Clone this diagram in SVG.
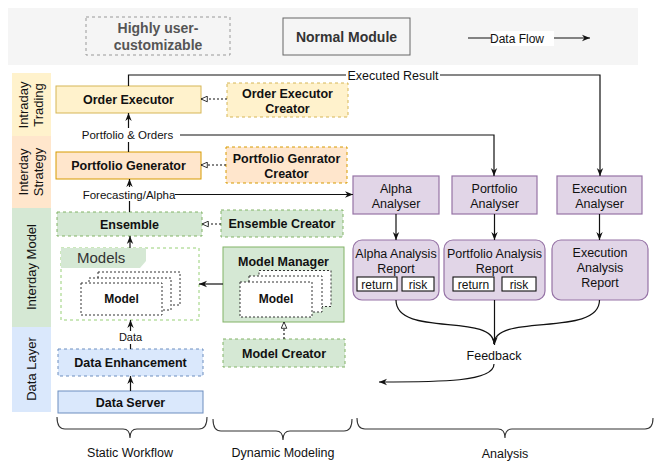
<svg xmlns="http://www.w3.org/2000/svg" width="655" height="462" viewBox="0 0 655 462">
<defs>
<marker id="arr" viewBox="0 0 10 10" refX="10" refY="5" markerWidth="8" markerHeight="8" markerUnits="userSpaceOnUse" orient="auto"><path d="M0,1 L10,5 L0,9 L3,5 z" fill="#111"/></marker>
<marker id="open" viewBox="0 0 10 10" refX="9.5" refY="5" markerWidth="7" markerHeight="7" markerUnits="userSpaceOnUse" orient="auto"><path d="M0.5,1 L9.5,5 L0.5,9 z" fill="#fff" stroke="#111" stroke-width="1.2"/></marker>
<style>
text{font-family:"Liberation Sans",Arial,sans-serif;fill:#111}
.b{font-weight:bold;font-size:12.5px;text-anchor:middle}
.n{font-size:12.5px;text-anchor:middle}
.s{font-size:11.5px;text-anchor:middle}
.side{font-size:13px;text-anchor:middle}
.yel{fill:#fff2cc;stroke:#d6b656}
.org{fill:#ffe6cc;stroke:#d79b00}
.grn{fill:#d5e8d4;stroke:#82b366}
.blu{fill:#dae8fc;stroke:#6c8ebf}
.pur{fill:#e1d5e7;stroke:#9673a6;stroke-width:1.2}
.dash{stroke-dasharray:3,3}
.card{fill:#fff;stroke:#333;stroke-dasharray:2,2}
.line{fill:none;stroke:#111;stroke-width:1.2}
.dl{fill:none;stroke:#111;stroke-width:1.1;stroke-dasharray:2,2}
.brace{fill:none;stroke:#333;stroke-width:1.1}
.tag{fill:#fff;stroke:#111;stroke-width:1.1}
</style>
</defs>

<g id="legend">
<rect x="8" y="8" width="630" height="57" fill="#f5f5f5"/>
<rect x="86" y="17" width="144" height="38" fill="none" stroke="#999" stroke-dasharray="3,3"/>
<text x="158" y="33" style="font-weight:bold;font-size:14px;text-anchor:middle;fill:#555">Highly user-</text>
<text x="158" y="50" style="font-weight:bold;font-size:14px;text-anchor:middle;fill:#555">customizable</text>
<rect x="283" y="18" width="127" height="37" fill="#f5f5f5" stroke="#666"/>
<text x="346.5" y="41.5" style="font-weight:bold;font-size:14px;text-anchor:middle;fill:#333">Normal Module</text>
<line x1="468" y1="38" x2="590" y2="38" class="line" marker-end="url(#arr)"/>
<rect x="491" y="31" width="63" height="15" fill="#fff"/>
<text x="517" y="42.5" style="font-size:12px;text-anchor:middle">Data Flow</text>
</g>

<g id="layers">
<rect x="12" y="73" width="39" height="63" fill="#fff2cc"/>
<rect x="12" y="136" width="39" height="72" fill="#ffe6cc"/>
<rect x="12" y="208" width="39" height="119" fill="#d5e8d4"/>
<rect x="12" y="327" width="39" height="85" fill="#dae8fc"/>
<text class="side" transform="translate(27.5,105) rotate(-90)">Intraday</text>
<text class="side" transform="translate(42.5,105) rotate(-90)">Trading</text>
<text class="side" transform="translate(27.5,172) rotate(-90)">Interday</text>
<text class="side" transform="translate(42.5,172) rotate(-90)">Strategy</text>
<text class="side" transform="translate(35.5,267) rotate(-90)">Interday Model</text>
<text class="side" transform="translate(35.5,369) rotate(-90)">Data Layer</text>
</g>

<g id="order-executor"><rect x="56" y="86" width="145" height="27" class="yel"/><text x="128.5" y="104" class="b">Order Executor</text></g>
<g id="portfolio-generator"><rect x="56" y="152" width="145" height="27" class="org"/><text x="128.5" y="170" class="b">Portfolio Generator</text></g>
<g id="ensemble"><rect x="57" y="212" width="145" height="24" class="grn dash"/><text x="129.5" y="228.5" class="b">Ensemble</text></g>
<g id="models">
<rect x="61" y="248" width="138" height="72" fill="#fff" stroke="#97d077" stroke-dasharray="3,3"/>
<path d="M61,248 H146 V261 L140,268 H61 Z" fill="#d5e8d4"/>
<text x="77" y="263" style="font-size:15px;fill:#333">Models</text>
<rect x="98" y="272" width="82" height="33" class="card"/>
<rect x="89" y="278" width="82" height="32" class="card"/>
<rect x="81" y="283" width="81" height="32" class="card"/>
<text x="121.5" y="303" class="b" style="font-size:12px">Model</text>
</g>
<g id="data-enhancement"><rect x="58" y="349" width="145" height="27" class="blu dash"/><text x="130.5" y="367" class="b">Data Enhancement</text></g>
<g id="data-server"><rect x="58" y="391" width="145" height="22" class="blu"/><text x="130.5" y="406.5" class="b">Data Server</text></g>

<g id="order-executor-creator"><rect x="227" y="83" width="121" height="34" class="yel dash"/><text x="287.5" y="97.5" class="b">Order Executor</text><text x="287.5" y="112.5" class="b">Creator</text></g>
<g id="portfolio-generator-creator"><rect x="226" y="147" width="121" height="36" class="org dash"/><text x="286.5" y="162.5" class="b">Portfolio Genrator</text><text x="286.5" y="177.5" class="b">Creator</text></g>
<g id="ensemble-creator"><rect x="221" y="210" width="122" height="27" class="grn dash"/><text x="282" y="228" class="b">Ensemble Creator</text></g>
<g id="model-manager">
<rect x="223" y="247" width="121" height="75" class="grn"/>
<text x="283.5" y="265.5" class="b">Model Manager</text>
<rect x="259" y="270.5" width="72" height="36" class="card"/>
<rect x="249" y="276" width="73" height="36" class="card"/>
<rect x="240" y="282" width="72" height="35" class="card"/>
<text x="276" y="303" class="b" style="font-size:12px">Model</text>
</g>
<g id="model-creator"><rect x="223" y="339" width="122" height="28" class="grn dash"/><text x="284" y="357.5" class="b">Model Creator</text></g>

<g id="alpha-analyser"><rect x="353" y="176" width="86" height="38" class="pur"/><text x="396" y="192.5" class="n">Alpha</text><text x="396" y="207.5" class="n">Analyser</text></g>
<g id="portfolio-analyser"><rect x="452" y="176" width="85" height="38" class="pur"/><text x="494.5" y="192.5" class="n">Portfolio</text><text x="494.5" y="207.5" class="n">Analyser</text></g>
<g id="execution-analyser"><rect x="557" y="176" width="85" height="38" class="pur"/><text x="599.5" y="192.5" class="n">Execution</text><text x="599.5" y="207.5" class="n">Analyser</text></g>

<g id="alpha-report"><rect x="353" y="240" width="86" height="60" rx="9" class="pur"/><text x="396" y="257.5" class="n">Alpha Analysis</text><text x="396" y="272.5" class="n">Report</text>
<rect x="357" y="277" width="40" height="14" class="tag"/><text x="377" y="288.5" class="n" style="font-size:12px">return</text>
<rect x="402" y="277" width="32" height="14" class="tag"/><text x="418" y="288.5" class="n" style="font-size:12px">risk</text></g>
<g id="portfolio-report"><rect x="444" y="240" width="101" height="60" rx="9" class="pur"/><text x="494.5" y="257.5" class="n">Portfolio Analysis</text><text x="494.5" y="272.5" class="n">Report</text>
<rect x="453" y="277" width="41" height="14" class="tag"/><text x="473.5" y="288.5" class="n" style="font-size:12px">return</text>
<rect x="502" y="277" width="34" height="14" class="tag"/><text x="519" y="288.5" class="n" style="font-size:12px">risk</text></g>
<g id="execution-report"><rect x="552" y="240" width="96" height="60" rx="9" class="pur"/><text x="600" y="256.5" class="n">Execution</text><text x="600" y="272" class="n">Analysis</text><text x="600" y="287" class="n">Report</text></g>

<g id="connectors">
<line x1="227" y1="99" x2="201" y2="99" class="dl" marker-end="url(#open)"/>
<line x1="226" y1="165" x2="201" y2="165" class="dl" marker-end="url(#open)"/>
<line x1="221" y1="224" x2="202" y2="224" class="dl" marker-end="url(#open)"/>
<line x1="284" y1="339" x2="284" y2="322" class="dl" marker-end="url(#open)"/>
<line x1="128.5" y1="152" x2="128.5" y2="113" class="line" marker-end="url(#arr)"/>
<line x1="129.5" y1="212" x2="129.5" y2="179" class="line" marker-end="url(#arr)"/>
<line x1="130" y1="248" x2="130" y2="236" class="line" marker-end="url(#arr)"/>
<line x1="130.5" y1="349" x2="130.5" y2="320" class="line" marker-end="url(#arr)"/>
<line x1="130.5" y1="391" x2="130.5" y2="376" class="line" marker-end="url(#arr)"/>
<line x1="223" y1="284" x2="199" y2="284" class="line" marker-end="url(#arr)"/>
<path d="M128.5,86 V75 H600 V176" class="line" marker-end="url(#arr)"/>
<path d="M180,135 H494 V176" class="line" marker-end="url(#arr)"/>
<path d="M175,194.5 H353" class="line" marker-end="url(#arr)"/>
<line x1="396" y1="214" x2="396" y2="240" class="line" marker-end="url(#arr)"/>
<line x1="494.5" y1="214" x2="494.5" y2="240" class="line" marker-end="url(#arr)"/>
<line x1="599.5" y1="214" x2="599.5" y2="240" class="line" marker-end="url(#arr)"/>
<path d="M396,300 C396,338 494,312 494,344" class="line"/>
<path d="M599.5,300 C599.5,338 494,312 494,344" class="line"/>
<path d="M494.5,300 V345" class="line" marker-end="url(#arr)"/>
<path d="M494,364 C494,382 440,382 379,382" class="line" marker-end="url(#arr)"/>
<rect x="81" y="128" width="93" height="14" fill="#fff"/>
<text x="127.5" y="139" class="s">Portfolio &amp; Orders</text>
<rect x="82" y="187" width="93" height="14" fill="#fff"/>
<text x="129" y="198.5" class="s">Forecasting/Alpha</text>
<rect x="116" y="331" width="29" height="13" fill="#fff"/>
<text x="130.5" y="341" class="s" style="font-size:11px">Data</text>
<rect x="346" y="68" width="94" height="14" fill="#fff"/>
<text x="393" y="79.5" class="n">Executed Result</text>
<text x="494" y="359.5" class="n">Feedback</text>
</g>

<g id="braces">
<path d="M57,417 Q57,429 65,429 H123 Q130,429 130,438 Q130,429 137,429 H199 Q207,429 207,417" class="brace"/>
<path d="M213,419 Q213,431 221,431 H276 Q283,431 283,440 Q283,431 290,431 H344 Q352,431 352,419" class="brace"/>
<path d="M357,418 Q357,429 365,429 H498 Q505,429 505,438 Q505,429 512,429 H645 Q653,429 653,418" class="brace"/>
<text x="130" y="457" class="n">Static Workflow</text>
<text x="283" y="457" class="n">Dynamic Modeling</text>
<text x="505" y="458" class="n">Analysis</text>
</g>
</svg>
